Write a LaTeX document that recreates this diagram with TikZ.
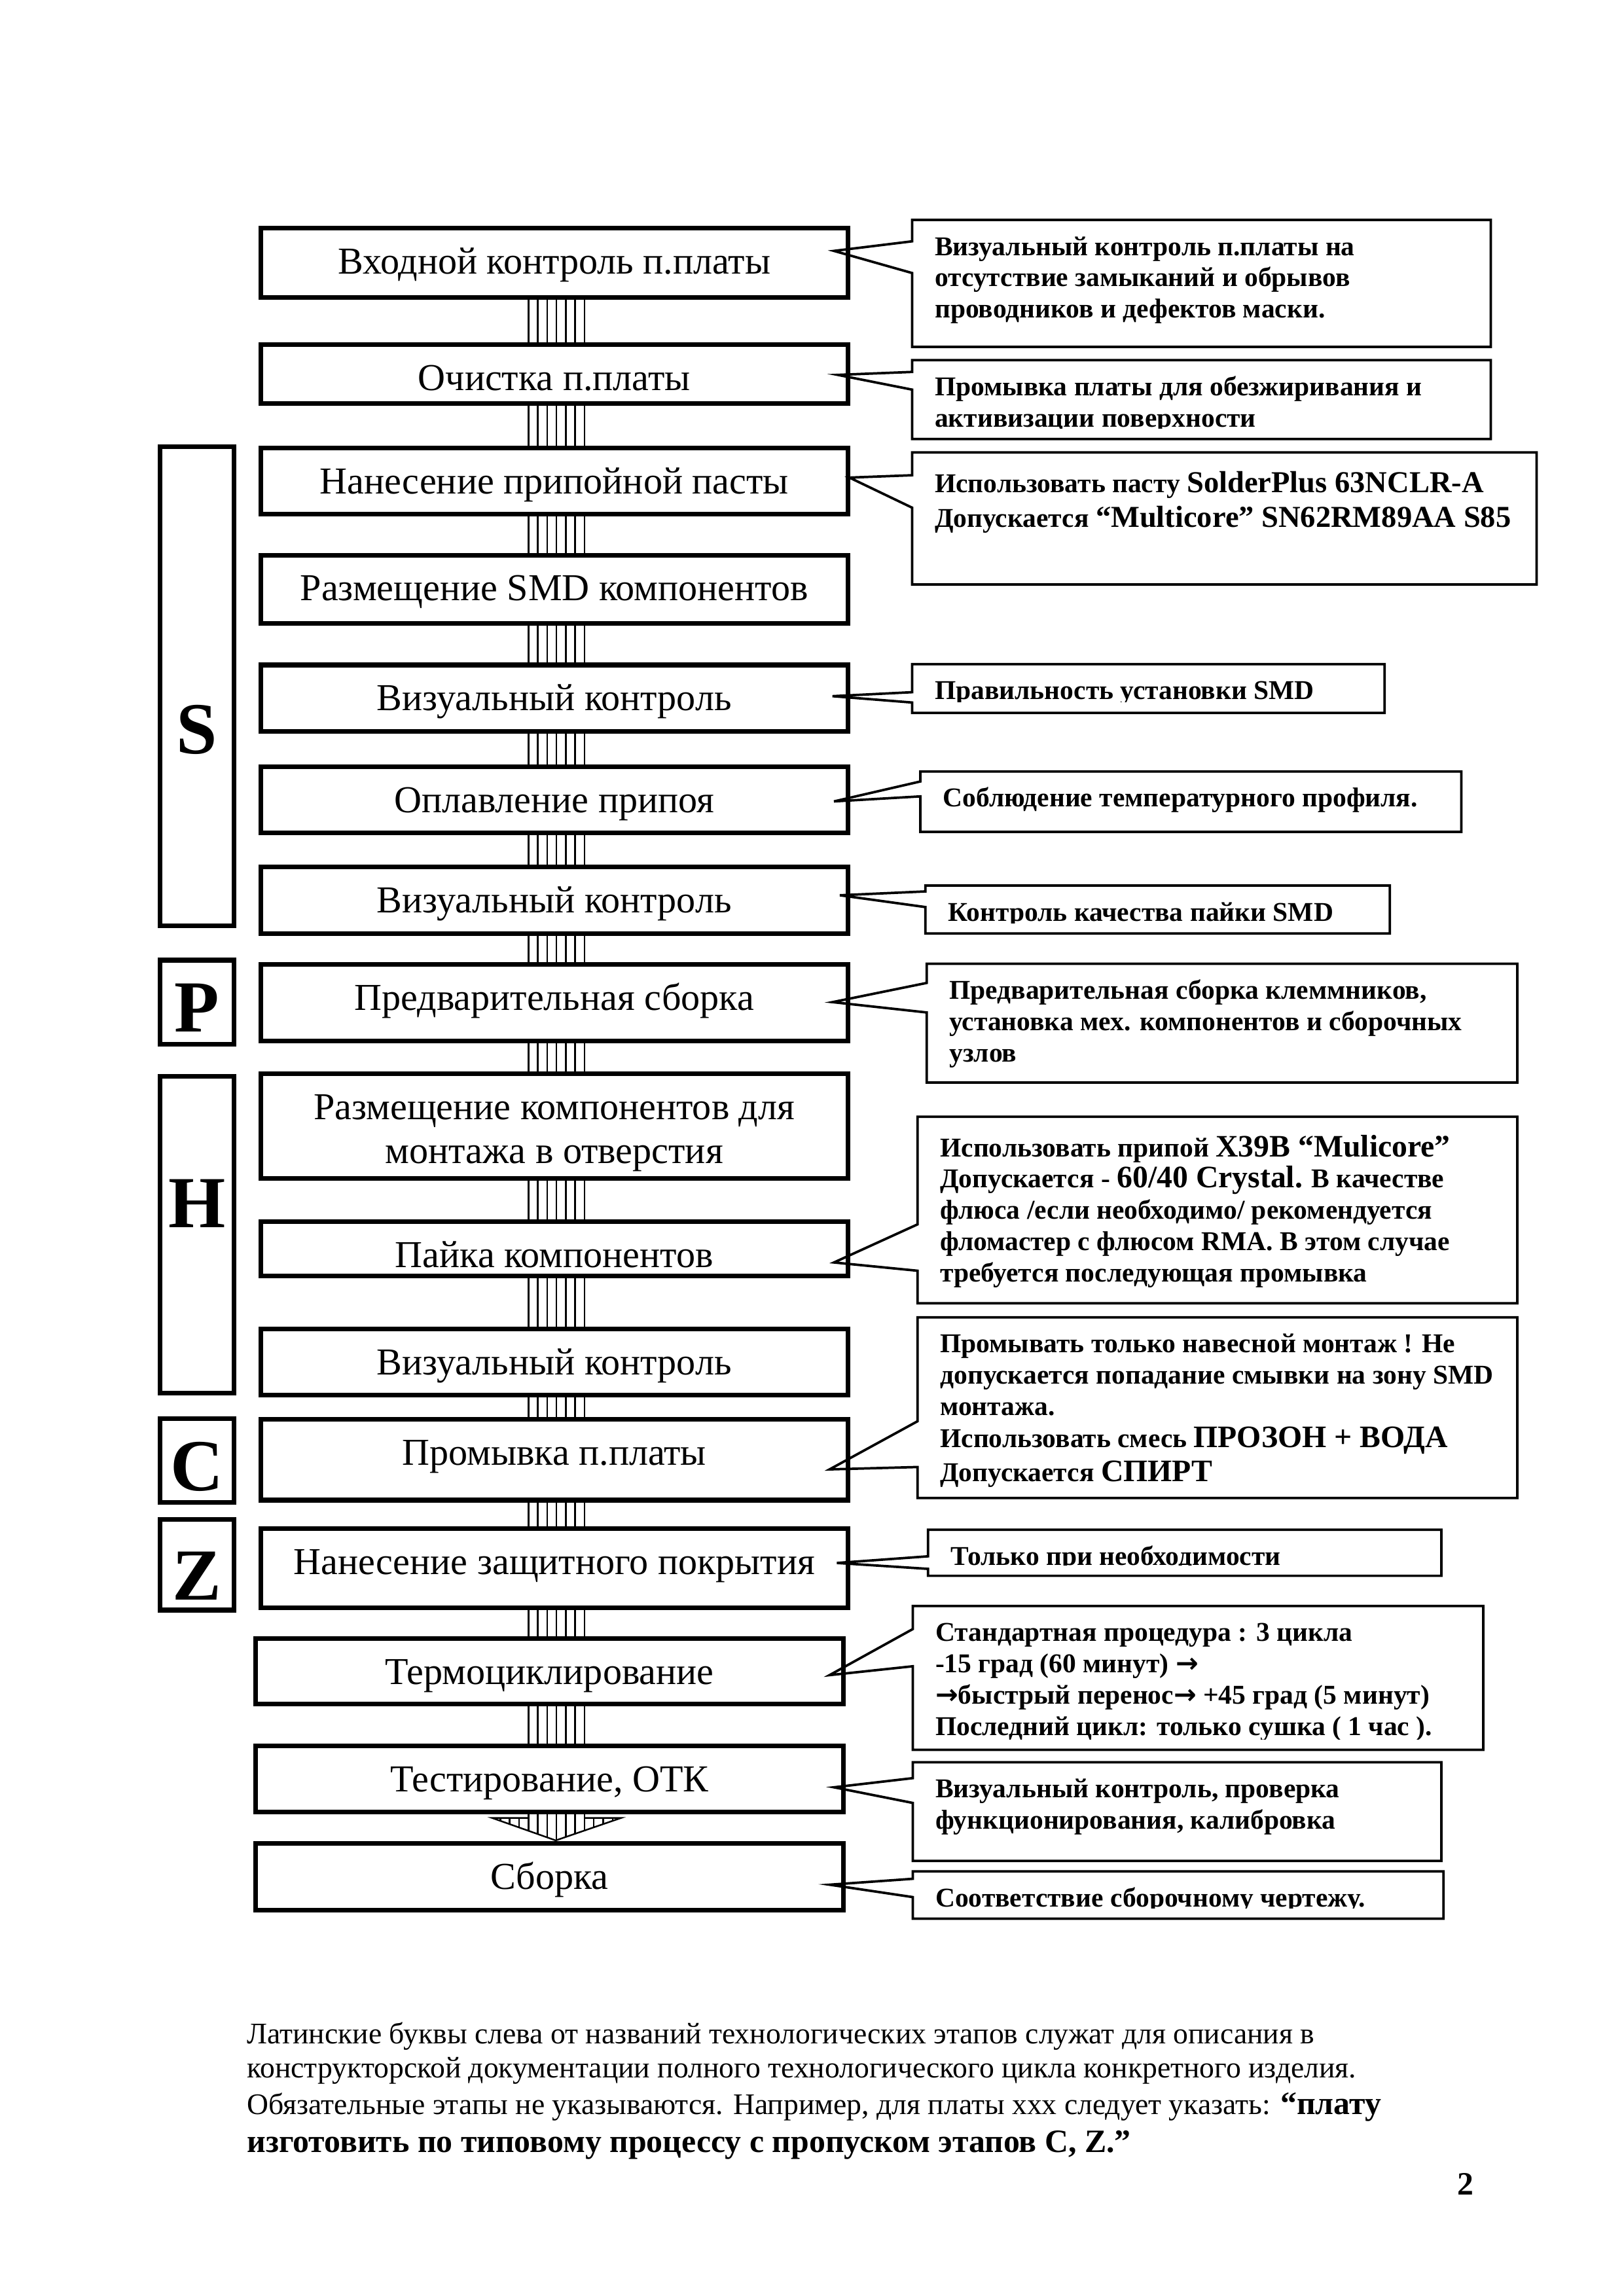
\documentclass[tikz,border=0pt]{standalone}
\usepackage{fontspec}
\setmainfont{Liberation Serif}
\newfontfamily\arrowfont{DejaVu Sans}
\usetikzlibrary{fit,calc}

\newcommand{\bigpart}[1]{{\fontsize{11.5}{13.2}\selectfont #1}}
\newcommand{\midpart}[1]{{\fontsize{11.2}{12.9}\selectfont #1}}
\newcommand{\notearrow}{{\arrowfont\bfseries →}}

\begin{document}
\begin{tikzpicture}[x=0.190909mm, y=-0.190909mm,
        stage/.style={draw, line width=1.7pt, fill=white, inner sep=0pt, outer sep=0pt},
        stagetext/.style={anchor=base, inner sep=0pt, font=\fontsize{14}{16.1}\selectfont},
        letterbox/.style={draw, line width=1.7pt, inner sep=0pt, outer sep=0pt},
        letter/.style={anchor=base, inner sep=0pt, font=\bfseries\fontsize{27}{30}\selectfont},
        notebox/.style={inner sep=0pt, outer sep=0pt},
        note/.style={line width=0.9pt},
        notetext/.style={anchor=base west, inner sep=0pt, font=\bfseries\fontsize{10}{11.5}\selectfont},
        stripe/.style={line width=0.6pt}
    ]
        \useasboundingbox (0,0) rectangle (1100,1555.7);

        % Define the stages
        \foreach \n/\xa/\ya/\xb/\yb in {1/175/153/576/203, 2/175/232/576/275, 3/175/302/576/350,
                4/175/374.5/576/424, 5/175/449/576/497, 6/175/518/576/566, 7/175/586/576/634,
                8/175/652/576/707, 9/175/726/576/800, 10/175/826/576/866, 11/175/899/576/947,
                12/175/960/576/1018, 13/175/1034/576/1091, 14/171.5/1108.5/573/1156,
                15/171.5/1181.5/573/1229.5, 16/171.5/1247.5/573/1296}
            \node[stage, fit={({\xa+1.57},{\ya+1.57}) ({\xb-1.57},{\yb-1.57})}] (b\n) {};

        \foreach \n/\txt in {1/{Входной контроль п.платы}, 2/{Очистка п.платы},
                3/{Нанесение припойной пасты}, 4/{Размещение SMD компонентов},
                5/{Визуальный контроль}, 6/{Оплавление припоя}, 7/{Визуальный контроль},
                8/{Предварительная сборка},
                9/{\begin{tabular}[t]{@{}c@{}}Размещение компонентов для\\монтажа в отверстия\end{tabular}},
                10/{Пайка компонентов}, 11/{Визуальный контроль}, 12/{Промывка п.платы},
                13/{Нанесение защитного покрытия}, 14/{Термоциклирование},
                15/{Тестирование, ОТК}, 16/{Сборка}} {
            \begin{scope}
                \clip (b\n.north west) rectangle ($(b\n.south east)+(0,-4.5)$);
                \node[stagetext] (t\n) at ($(b\n.north)+(0,31)$) {\txt};
            \end{scope}
        }

        % Striped connectors
        \foreach \k in {0,...,6}
            \coordinate (s\k) at ({358+\k*6.333},0);
        \foreach \u/\d in {b1/b2, b2/b3, b3/b4, b4/b5, b5/b6, b6/b7, b7/b8, b8/b9,
                b9/b10, b10/b11, b11/b12, b12/b13, b13/b14, b14/b15}
            \foreach \k in {0,...,6}
                \draw[stripe] (\u.south -| s\k) -- (\d.north -| s\k);

        % Last connector with its head
        \coordinate (hl) at (333.5,1231.8);
        \coordinate (hr) at (420.7,1231.8);
        \coordinate (ht) at (376.5,1247);
        \foreach \k in {0,...,6}
            \draw[stripe] (b15.south -| s\k) -- (s\k |- hl);
        \begin{scope}
            \clip (hl) -- (hr) -- (ht) -- cycle;
            \foreach \k in {-4,...,10}
                \draw[stripe] ({358+\k*6.333},1220) -- ({358+\k*6.333},1252);
        \end{scope}
        \draw[stripe] (s0 |- hl) -- (hl) -- (ht) -- (hr) -- (s6 |- hr);

        % Letters of the process groups
        \foreach \ch/\ya/\yb/\yl in {S/301/629/510.5, P/649/709/699, H/727.6/945.5/831.6,
                C/959.5/1019.6/1010, Z/1028/1092.5/1084} {
            \node[letterbox, fit={(108.6,{\ya+1.57}) (158.4,{\yb-1.57})}] (l\ch) {};
            \node[letter] at (l\ch.center |- 0,\yl) {\ch};
        }

        % Callouts
        \foreach \n/\xa/\ya/\xb/\yb/\ba/\bb/\px/\py in {
                1/618/149/1010/235/163.5/185/565/170,
                2/618/244/1010/297.5/252/264/567.5/254,
                3/618/306.5/1041/396/322/344/575.5/323.6,
                4/618/450/938/483/469/476/564/471.7,
                5/623.5/522.7/990/563.6/529.5/539.6/565/543,
                6/627/600/941.6/632.5/604/614.6/569/606.6,
                7/627.8/653/1028/733.5/666/686/564/679,
                8/621.6/756.7/1028/883/829.6/861/565/855.4,
                9/621.6/892.6/1028/1015/963/994/562/995.6,
                10/628.7/1036.5/976.5/1067.7/1054.5/1063/567/1059,
                11/618.4/1088.2/1004.9/1185.6/1103.8/1129/562/1135,
                12/618.4/1194/976.5/1260.9/1204.8/1221.6/565/1211,
                13/618.4/1268/978/1300/1273/1285.4/562/1277} {
            \node[notebox, fit={(\xa,\ya) (\xb,\yb)}] (c\n) {};
            \coordinate (p\n) at (\px,\py);
            \draw[note] (c\n.west |- 0,\bb) -- (c\n.south west) -- (c\n.south east)
                -- (c\n.north east) -- (c\n.north west) -- (c\n.west |- 0,\ba) -- (p\n) -- cycle;
        }

        \foreach \n/\dy/\txt in {
                1/24/{Визуальный контроль п.платы на\\отсутствие замыканий и обрывов\\проводников и дефектов маски.},
                2/24/{Промывка платы для обезжиривания и\\активизации поверхности},
                3/27/{Использовать пасту \midpart{SolderPlus 63NCLR-A}\\[1.4pt]Допускается \midpart{“Multicore” SN62RM89AA S85}},
                4/24/{Правильность установки SMD},
                5/24/{Соблюдение температурного профиля.},
                6/24/{Контроль качества пайки SMD},
                7/24/{Предварительная сборка клеммников,\\установка мех. компонентов и сборочных\\узлов},
                8/27/{Использовать припой \bigpart{X39B “Mulicore”}\\Допускается - \bigpart{60/40 Crystal.} В качестве\\флюса /если необходимо/ рекомендуется\\фломастер с флюсом RMA. В этом случае\\требуется последующая промывка},
                9/24/{Промывать только навесной монтаж ! Не\\допускается попадание смывки на зону SMD\\монтажа.\\[0.4pt]Использовать смесь \bigpart{ПРОЗОН + ВОДА}\\[1pt]Допускается \bigpart{СПИРТ}},
                10/24/{Только при необходимости},
                11/24/{Стандартная процедура : 3 цикла\\-15 град (60 минут) \notearrow\\\notearrow быстрый перенос\notearrow{} +45 град (5 минут)\\Последний цикл: только сушка ( 1 час ).},
                12/24/{Визуальный контроль, проверка\\функционирования, калибровка},
                13/24/{Соответствие сборочному чертежу.}} {
            \begin{scope}
                \clip (c\n.north west) rectangle ($(c\n.south east)+(0,-7.2)$);
                \node[notetext] (n\n) at ($(c\n.north west)+(15,\dy)$)
                    {\begin{tabular}[t]{@{}l@{}}\txt\end{tabular}};
            \end{scope}
        }

        % Legend below the chart
        \node[anchor=base west, inner sep=0pt, font=\fontsize{11}{12.65}\selectfont] (legend) at (167,1384.6)
            {\begin{tabular}[t]{@{}l@{}}
                Латинские буквы слева от названий технологических этапов служат для описания в\\
                конструкторской документации полного технологического цикла конкретного изделия.\\[0.9pt]
                Обязательные этапы не указываются. Например, для платы xxx следует указать: {\bfseries\fontsize{12}{13.8}\selectfont “плату}\\[1.2pt]
                {\bfseries\fontsize{12}{13.8}\selectfont изготовить по типовому процессу с пропуском этапов C, Z.”}
            \end{tabular}};
        \node[anchor=base, inner sep=0pt, font=\bfseries\fontsize{12}{14}\selectfont] (pagenum) at (993,1487) {2};
    \end{tikzpicture}
\end{document}
